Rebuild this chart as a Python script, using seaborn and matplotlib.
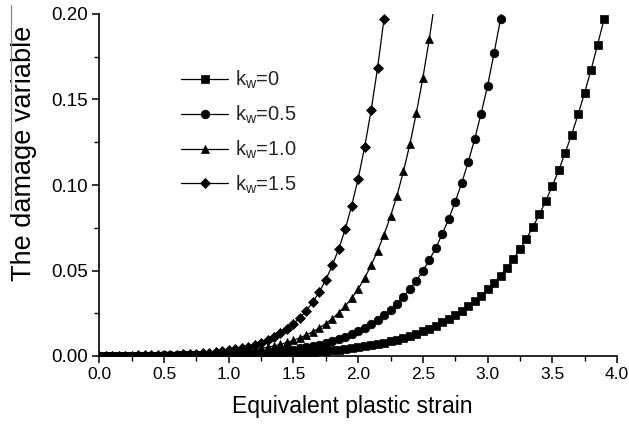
import numpy as np
import pandas as pd
import matplotlib
matplotlib.use("Agg")
import matplotlib.pyplot as plt
from matplotlib.lines import Line2D
from matplotlib.ticker import MultipleLocator, FormatStrFormatter
import seaborn as sns

# ---- data ----
step = 0.05
labels = [r"k$_\mathregular{w}$=0", r"k$_\mathregular{w}$=0.5",
          r"k$_\mathregular{w}$=1.0", r"k$_\mathregular{w}$=1.5"]
markers = ["s", "o", "^", "D"]

d_kw0 = [0.0001, 0.0001, 0.0001, 0.0001, 0.0001, 0.0001, 0.0001, 0.0001, 0.0001, 0.0002,
         0.0002, 0.0002, 0.0002, 0.0003, 0.0003, 0.0003, 0.0004, 0.0004, 0.0005, 0.0005,
         0.0006, 0.0007, 0.0007, 0.0008, 0.0009, 0.0010, 0.0011, 0.0013, 0.0014, 0.0016,
         0.0017, 0.0019, 0.0022, 0.0024, 0.0027, 0.0030, 0.0033, 0.0037, 0.0041, 0.0046,
         0.0051, 0.0057, 0.0063, 0.0070, 0.0078, 0.0087, 0.0096, 0.0107, 0.0118, 0.0131,
         0.0145, 0.0160, 0.0177, 0.0196, 0.0216, 0.0238, 0.0263, 0.0290, 0.0320, 0.0353,
         0.0389, 0.0428, 0.0470, 0.0516, 0.0568, 0.0624, 0.0686, 0.0754, 0.0828, 0.0907,
         0.0995, 0.1086, 0.1190, 0.1295, 0.1415, 0.1540, 0.1675, 0.1820, 0.1970]

d_kw05 = [0.0001, 0.0001, 0.0001, 0.0001, 0.0001, 0.0001, 0.0002, 0.0002, 0.0002, 0.0002,
          0.0003, 0.0003, 0.0003, 0.0004, 0.0004, 0.0005, 0.0006, 0.0007, 0.0008, 0.0009,
          0.0010, 0.0011, 0.0013, 0.0015, 0.0017, 0.0019, 0.0022, 0.0025, 0.0029, 0.0033,
          0.0038, 0.0044, 0.0050, 0.0058, 0.0066, 0.0075, 0.0086, 0.0098, 0.0112, 0.0128,
          0.0146, 0.0165, 0.0187, 0.0212, 0.0240, 0.0270, 0.0306, 0.0346, 0.0391, 0.0441,
          0.0497, 0.0562, 0.0632, 0.0714, 0.0803, 0.0902, 0.1012, 0.1133, 0.1268, 0.1418,
          0.1580, 0.1770, 0.1970, 0.2190]

d_kw10 = [0.0001, 0.0001, 0.0001, 0.0002, 0.0002, 0.0002, 0.0003, 0.0003, 0.0004, 0.0004,
          0.0005, 0.0006, 0.0007, 0.0008, 0.0009, 0.0010, 0.0012, 0.0014, 0.0016, 0.0018,
          0.0021, 0.0024, 0.0028, 0.0033, 0.0038, 0.0044, 0.0051, 0.0059, 0.0068, 0.0079,
          0.0092, 0.0106, 0.0123, 0.0142, 0.0164, 0.0189, 0.0219, 0.0253, 0.0292, 0.0338,
          0.0392, 0.0456, 0.0530, 0.0614, 0.0710, 0.0817, 0.0938, 0.1080, 0.1240, 0.1423,
          0.1626, 0.1856, 0.2110]

d_kw15 = [0.0001, 0.0001, 0.0001, 0.0002, 0.0002, 0.0002, 0.0003, 0.0003, 0.0004, 0.0005,
          0.0006, 0.0007, 0.0008, 0.0010, 0.0011, 0.0014, 0.0016, 0.0019, 0.0023, 0.0027,
          0.0033, 0.0039, 0.0046, 0.0055, 0.0065, 0.0078, 0.0093, 0.0111, 0.0132, 0.0157,
          0.0187, 0.0223, 0.0266, 0.0316, 0.0375, 0.0446, 0.0530, 0.0627, 0.0741, 0.0879,
          0.1036, 0.1221, 0.1436, 0.1684, 0.1973]

series = [d_kw0, d_kw05, d_kw10, d_kw15]

x_ticks_fmt = "%.1f"
y_ticks_fmt = "%.2f"

# ---- style ----
sns.set_theme(style="ticks")
plt.rcParams["font.family"] = ["Liberation Sans", "DejaVu Sans"]
plt.rcParams["mathtext.fontset"] = "custom"
plt.rcParams["mathtext.rm"] = "Liberation Sans"
plt.rcParams["mathtext.it"] = "Liberation Sans:italic"

fig = plt.figure(figsize=(6.29, 4.24), dpi=100)
ax = fig.add_axes([99.3 / 629, 1 - 356 / 424, 517.7 / 629, 342 / 424])

for ys, lab, mk in zip(series, labels, markers):
    xs = np.round(np.arange(len(ys)) * step, 4)
    df = pd.DataFrame({"x": xs, "y": ys})
    ms = 5.6 if mk == "D" else 6.2
    sns.lineplot(data=df, x="x", y="y", ax=ax, color="black", linewidth=0.9,
                 marker=mk, markersize=ms, markeredgecolor="black",
                 markeredgewidth=0.5, label=lab, estimator=None, sort=False)

ax.set_xlim(0, 4.0)
ax.set_ylim(0, 0.20)
ax.xaxis.set_major_locator(MultipleLocator(0.5))
ax.xaxis.set_minor_locator(MultipleLocator(0.25))
ax.yaxis.set_major_locator(MultipleLocator(0.05))
ax.yaxis.set_minor_locator(MultipleLocator(0.025))
ax.xaxis.set_major_formatter(FormatStrFormatter(x_ticks_fmt))
ax.yaxis.set_major_formatter(FormatStrFormatter(y_ticks_fmt))

for s in ["top", "right"]:
    ax.spines[s].set_visible(False)
for s in ["left", "bottom"]:
    ax.spines[s].set_linewidth(1.2)
    ax.spines[s].set_color("black")

ax.tick_params(which="major", direction="out", length=5, width=1.1,
               colors="black", pad=3)
ax.tick_params(axis="x", which="major", labelsize=12.5)
ax.tick_params(axis="y", which="major", labelsize=13.5)
ax.tick_params(which="minor", direction="out", length=3.5, width=1.0, colors="black")

ax.set_xlabel("Equivalent plastic strain", fontsize=16.5, color="black")
ax.set_ylabel("The damage variable", fontsize=19.5, color="black")
ax.xaxis.set_label_coords(0.488, -0.115)
ax.yaxis.set_label_coords(-0.121, 0.592)

leg = ax.legend(loc="upper left", bbox_to_anchor=(181 / 629, 1 - 69 / 424),
                bbox_transform=fig.transFigure, frameon=False, fontsize=14.5,
                handlelength=2.35, handletextpad=0.35, labelspacing=0.62,
                borderpad=0, borderaxespad=0)

fig.add_artist(Line2D([11 / 629, 11 / 629], [1 - 5 / 424, 1 - 210 / 424],
                      transform=fig.transFigure, color="#8a8a8a", linewidth=0.9))

fig.savefig("out.png", dpi=100)
